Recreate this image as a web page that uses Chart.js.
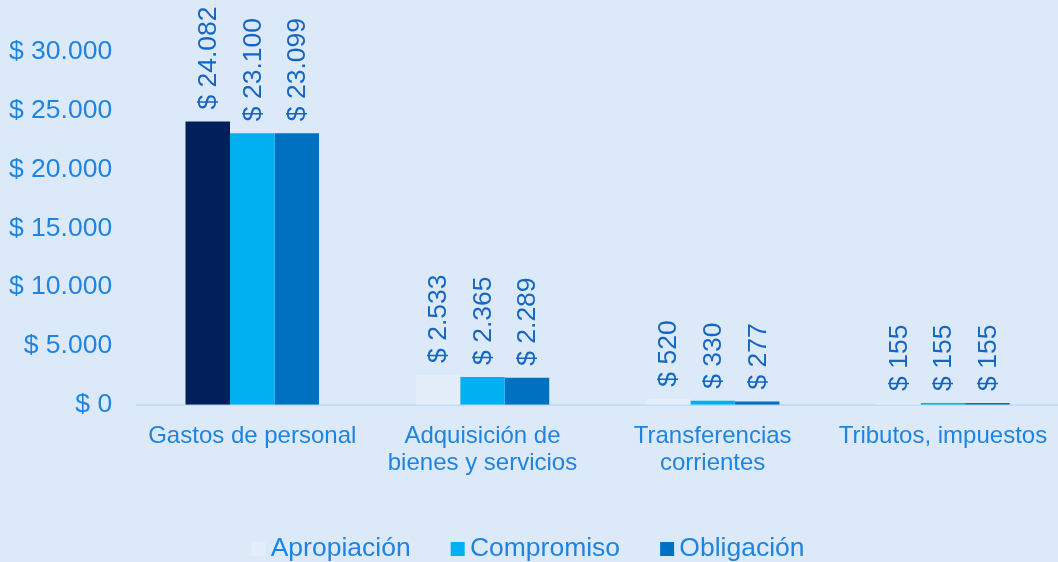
<!DOCTYPE html>
<html>
<head>
<meta charset="utf-8">
<script src="https://cdn.jsdelivr.net/npm/chart.js@4"></script>
<style>
  html, body { margin: 0; padding: 0; background: #dce9f9; }
  #wrap { width: 1058px; height: 562px; position: relative; }
</style>
</head>
<body>
<div id="wrap"><canvas id="chart" width="1058" height="562"></canvas></div>
<script>
const categories = [
  'Gastos de personal',
  ['Adquisición de', 'bienes y servicios'],
  ['Transferencias', 'corrientes'],
  'Tributos, impuestos'
];
const seriesNames = ['Apropiación', 'Compromiso', 'Obligación'];
const apropiacion = [24082, 2533, 520, 155];
const compromiso = [23100, 2365, 330, 155];
const obligacion = [23099, 2289, 277, 155];
const yTicks = [0, 5000, 10000, 15000, 20000, 25000, 30000];

const tickColor = '#1f84df';
const labelColor = '#1566c2';
const legendColors = ['#e4eefb', '#00b0f0', '#0070c0'];
const FONT = '"Liberation Sans", Arial, sans-serif';

const fmt = v => '$ ' + v.toLocaleString('de-DE');

// legend marker: square sitting close to the text
function marker(color) {
  const c = document.createElement('canvas');
  c.width = 28; c.height = 14;
  const g = c.getContext('2d');
  g.fillStyle = color;
  g.fillRect(10, 0, 14, 14);
  return c;
}

// rotated value labels above each bar
const barLabels = {
  id: 'barLabels',
  afterDatasetsDraw(chart) {
    const ctx = chart.ctx;
    ctx.save();
    ctx.fillStyle = labelColor;
    ctx.font = '26.5px ' + FONT;
    ctx.textAlign = 'left';
    ctx.textBaseline = 'middle';
    chart.data.datasets.forEach((ds, i) => {
      chart.getDatasetMeta(i).data.forEach((bar, j) => {
        ctx.save();
        ctx.translate(bar.x, bar.y - 12);
        ctx.rotate(-Math.PI / 2);
        ctx.fillText(fmt(ds.data[j]), 0, 1);
        ctx.restore();
      });
    });
    ctx.restore();
  }
};

new Chart(document.getElementById('chart'), {
  type: 'bar',
  data: {
    labels: categories,
    datasets: [
      { label: seriesNames[0], data: apropiacion,
        backgroundColor: ['#001f5b', '#e4eefb', '#e4eefb', '#e4eefb'] },
      { label: seriesNames[1], data: compromiso, backgroundColor: '#00b0f0' },
      { label: seriesNames[2], data: obligacion, backgroundColor: '#0070c0' }
    ]
  },
  options: {
    responsive: false,
    animation: false,
    layout: { padding: { top: 52, left: 0, right: 0, bottom: -10 } },
    datasets: { bar: { categoryPercentage: 0.58, barPercentage: 1 } },
    plugins: {
      legend: {
        position: 'bottom',
        labels: {
          color: tickColor,
          font: { size: 26.5, family: FONT },
          usePointStyle: true,
          boxWidth: 4, boxHeight: 14, padding: 42,
          generateLabels: chart => seriesNames.map((n, i) => ({
            text: n, fillStyle: legendColors[i], strokeStyle: legendColors[i],
            pointStyle: marker(legendColors[i]),
            lineWidth: 0, datasetIndex: i, fontColor: tickColor
          }))
        }
      },
      tooltip: { enabled: false }
    },
    scales: {
      x: {
        grid: { display: false },
        border: { color: '#c3ddf7', width: 2 },
        afterFit: scale => { scale.height += 7; },
        ticks: {
          color: tickColor, padding: 10, maxRotation: 0,
          font: { size: 24, family: FONT, lineHeight: 1.12 }
        }
      },
      y: {
        min: 0, max: 30000,
        grid: { display: false },
        border: { display: false },
        afterBuildTicks: axis => { axis.ticks = yTicks.map(v => ({ value: v })); },
        afterFit: scale => { scale.width -= 8; },
        ticks: {
          color: tickColor, padding: 17,
          font: { size: 26.5, family: FONT },
          callback: v => fmt(v)
        }
      }
    }
  },
  plugins: [barLabels]
});
</script>
</body>
</html>
